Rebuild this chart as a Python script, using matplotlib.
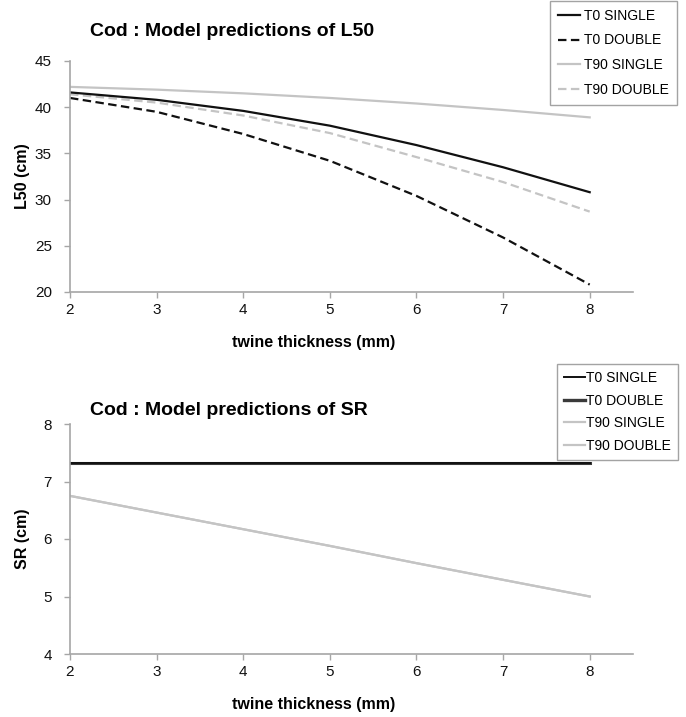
import matplotlib
matplotlib.use('Agg')
import matplotlib.pyplot as plt
from matplotlib.lines import Line2D

plt.rcParams['font.family'] = ['Liberation Sans', 'DejaVu Sans']

#! Data
thickness = [2, 3, 4, 5, 6, 7, 8]

# L50 (cm)
l50_t0_single = [41.6, 40.8, 39.6, 38.0, 35.9, 33.5, 30.8]
l50_t0_double = [41.0, 39.5, 37.1, 34.2, 30.4, 25.9, 20.8]
l50_t90_single = [42.2, 41.9, 41.5, 41.0, 40.4, 39.7, 38.9]
l50_t90_double = [41.4, 40.5, 39.1, 37.2, 34.6, 31.9, 28.7]

# SR (cm)
sr_t0_single = [7.33, 7.33, 7.33, 7.33, 7.33, 7.33, 7.33]
sr_t0_double = [7.33, 7.33, 7.33, 7.33, 7.33, 7.33, 7.33]
sr_t90_single = [6.75, 6.46, 6.17, 5.88, 5.58, 5.29, 5.00]
sr_t90_double = [6.75, 6.46, 6.17, 5.88, 5.58, 5.29, 5.00]

labels = ['T0 SINGLE', 'T0 DOUBLE', 'T90 SINGLE', 'T90 DOUBLE']

BLACK = '#111111'
DARK = '#3a3a3a'
LIGHT = '#c4c4c4'
AXIS = '#a6a6a6'
DASH = (0, (3.8, 2.0))

W, H = 686, 717
fig = plt.figure(figsize=(W / 100, H / 100), dpi=100)

axTop = fig.add_axes([70 / W, 1 - 292 / H, 563 / W, 231 / H])
axBot = fig.add_axes([70 / W, 1 - 654 / H, 563 / W, 230 / H])


def style_axis(ax, ylim, yticks, ylabel):
    ax.set_xlim(2, 8.5)
    ax.set_ylim(*ylim)
    ax.set_xticks(thickness)
    ax.set_yticks(yticks)
    for s in ['top', 'right']:
        ax.spines[s].set_visible(False)
    for s in ['left', 'bottom']:
        ax.spines[s].set_color(AXIS)
        ax.spines[s].set_linewidth(1.2)
    ax.tick_params(axis='both', direction='out', length=4, width=1, color=AXIS,
                   labelsize=11, labelcolor='#111111')
    ax.tick_params(axis='y', pad=9)
    ax.tick_params(axis='x', pad=4)
    ax.set_xlabel('twine thickness (mm)', fontsize=11.5, fontweight='bold')
    ax.xaxis.set_label_coords(244 / 563, -0.22)
    ax.xaxis.label.set_verticalalignment('center')
    ax.set_ylabel(ylabel, fontsize=11.5, fontweight='bold')
    ax.yaxis.set_label_coords(-40 / 563, 0.5)


#! Panel atas: L50
axTop.plot(thickness, l50_t90_single, color=LIGHT, lw=1.6)
axTop.plot(thickness, l50_t90_double, color=LIGHT, lw=1.6, linestyle=DASH)
axTop.plot(thickness, l50_t0_single, color=BLACK, lw=1.6)
axTop.plot(thickness, l50_t0_double, color=BLACK, lw=1.6, linestyle=DASH)
style_axis(axTop, (20, 45), [20, 25, 30, 35, 40, 45], 'L50 (cm)')

fig.text(90 / W, 1 - 32 / H, 'Cod : Model predictions of L50', fontsize=14,
         fontweight='bold', ha='left', va='center')

handlesTop = [
    Line2D([], [], color=BLACK, lw=1.6),
    Line2D([], [], color=BLACK, lw=1.6, linestyle=DASH),
    Line2D([], [], color=LIGHT, lw=1.6),
    Line2D([], [], color=LIGHT, lw=1.6, linestyle=DASH),
]
legTop = fig.legend(handlesTop, labels, loc='upper left',
                    bbox_to_anchor=(550 / W, 1 - 1 / H), fontsize=10,
                    frameon=True, fancybox=False, handlelength=1.6,
                    handletextpad=0.3, labelspacing=0.78, borderpad=0.55,
                    borderaxespad=0)
legTop.get_frame().set_edgecolor('#8c8c8c')
legTop.get_frame().set_linewidth(1.0)

#! Panel bawah: SR
axBot.plot(thickness, sr_t90_single, color=LIGHT, lw=1.6)
axBot.plot(thickness, sr_t90_double, color=LIGHT, lw=1.6)
axBot.plot(thickness, sr_t0_double, color=DARK, lw=2.2)
axBot.plot(thickness, sr_t0_single, color=BLACK, lw=1.4)
style_axis(axBot, (4, 8), [4, 5, 6, 7, 8], 'SR (cm)')

fig.text(90 / W, 1 - 410 / H, 'Cod : Model predictions of SR', fontsize=14,
         fontweight='bold', ha='left', va='center')

handlesBot = [
    Line2D([], [], color=BLACK, lw=1.4),
    Line2D([], [], color=DARK, lw=2.4),
    Line2D([], [], color=LIGHT, lw=1.6),
    Line2D([], [], color=LIGHT, lw=1.6),
]
legBot = fig.legend(handlesBot, labels, loc='upper left',
                    bbox_to_anchor=(557 / W, 1 - 364 / H), fontsize=10,
                    frameon=True, fancybox=False, handlelength=1.5,
                    handletextpad=0.1, labelspacing=0.62, borderpad=0.5,
                    borderaxespad=0)
legBot.get_frame().set_edgecolor('#8c8c8c')
legBot.get_frame().set_linewidth(1.0)

fig.savefig('out.png', dpi=100)
